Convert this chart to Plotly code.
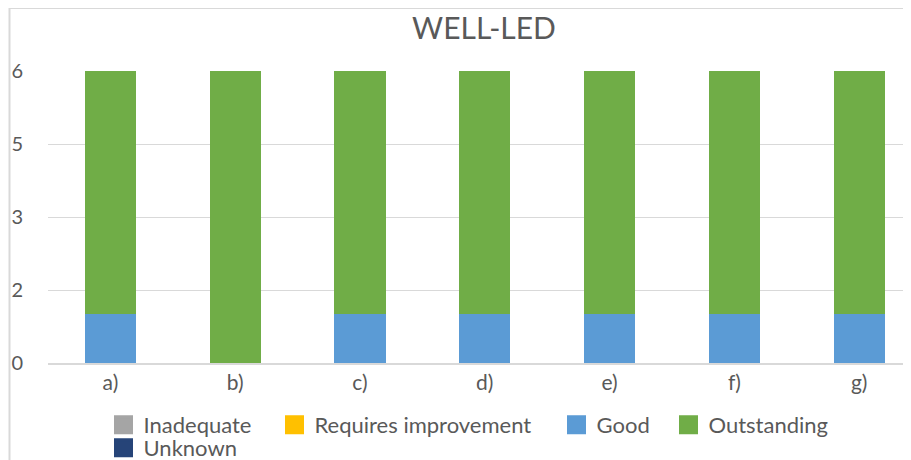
import plotly.graph_objects as go

categories = ["a)", "b)", "c)", "d)", "e)", "f)", "g)"]
inadequate = [0, 0, 0, 0, 0, 0, 0]
requires_improvement = [0, 0, 0, 0, 0, 0, 0]
good = [1, 0, 1, 1, 1, 1, 1]
outstanding = [5, 6, 5, 5, 5, 5, 5]
unknown = [0, 0, 0, 0, 0, 0, 0]
y_tick_values = [0, 1.5, 3, 4.5, 6]
y_tick_labels = ["0", "2", "3", "5", "6"]

# page has an 8px body margin; figure is placed at (8, 8)
OFF = 8
W, H = 911 - OFF, 460 - OFF
L, R, T, B = 40, 0, 63, 97
pw, ph = W - L - R, H - T - B
FONT = "Lato"
GREY = "#595959"

series = [
    ("Inadequate", inadequate, "#A5A5A5"),
    ("Requires improvement", requires_improvement, "#FFC000"),
    ("Good", good, "#5B9BD5"),
    ("Outstanding", outstanding, "#70AD47"),
    ("Unknown", unknown, "#264478"),
]
# legend symbol centre (x px) and row centre (y px), figure coordinates
legend_pos = [(117.5, 417), (288.5, 417), (570.5, 417), (682.5, 417), (117.5, 440)]

fig = go.Figure()
for name, vals, col in series:
    fig.add_trace(go.Bar(x=categories, y=vals, name=name, marker_color=col,
                         marker_line_width=0, showlegend=False))

layout_legends = {}
for i, ((name, vals, col), (lx, ly)) in enumerate(zip(series, legend_pos)):
    key = "legend" if i == 0 else f"legend{i+1}"
    fig.add_trace(go.Scatter(x=[None], y=[None], mode="markers", name=name,
                             marker=dict(symbol="square", size=16, color=col,
                                         line=dict(color=col, width=3)),
                             legend=key, showlegend=True))
    layout_legends[key] = dict(
        xref="container", yref="container",
        x=(lx - 20 - 2) / W, xanchor="left",
        y=1 - ly / H, yanchor="middle",
        orientation="h", itemsizing="trace",
        font=dict(family=FONT, size=22, color=GREY),
        bgcolor="rgba(0,0,0,0)", borderwidth=0,
    )

span = 6.915
fig.update_layout(
    width=W, height=H,
    margin=dict(l=L, r=R, t=T, b=B, autoexpand=False),
    paper_bgcolor="white", plot_bgcolor="white",
    barmode="stack", bargap=0.59,
    title=dict(text="WELL-LED", x=476 / W, xref="container", xanchor="center",
               y=1 - 20 / H, yref="container", yanchor="middle",
               font=dict(family=FONT, size=30, color=GREY)),
    xaxis=dict(range=[-0.5, -0.5 + span], showgrid=False, showline=True,
               linecolor="#d9d9d9", linewidth=2, ticks="",
               tickfont=dict(family=FONT, size=21, color=GREY), fixedrange=True),
    yaxis=dict(range=[0, 6], tickvals=y_tick_values, ticktext=y_tick_labels,
               showgrid=True, gridcolor="#d9d9d9", gridwidth=1.3, zeroline=False,
               showline=False, ticks="", ticklabelstandoff=24,
               tickfont=dict(family=FONT, size=20, color=GREY), fixedrange=True),
    **layout_legends,
)

# chart area border (left and top edges visible)
x_left = (1.5 - L) / pw
y_top = (H - B - 0) / ph
y_bot = (H - B - H) / ph
fig.add_shape(type="line", xref="paper", yref="paper", x0=x_left, x1=x_left,
              y0=y_bot, y1=y_top, line=dict(color="#d9d9d9", width=2))
fig.add_shape(type="line", xref="paper", yref="paper", x0=x_left, x1=1.0,
              y0=y_top, y1=y_top, line=dict(color="#d9d9d9", width=2))

fig.write_html("out.html")
